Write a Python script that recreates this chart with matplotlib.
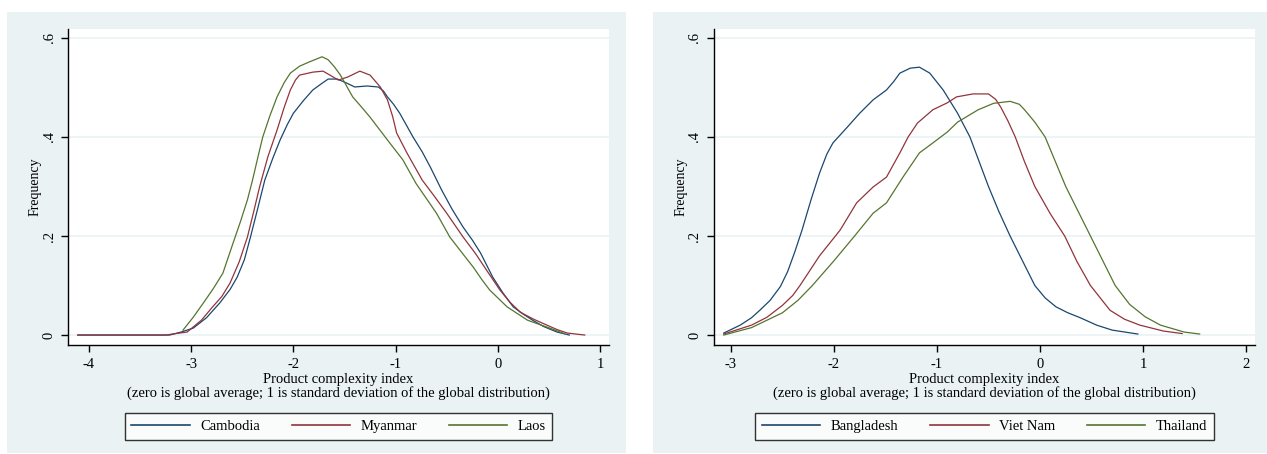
import matplotlib
matplotlib.use("Agg")
import matplotlib.pyplot as plt
from matplotlib.patches import Rectangle

# left panel
cambodia_x = [-4.11, -3.5, -3.21, -3.10, -2.98, -2.85, -2.72, -2.62, -2.55, -2.48, -2.42, -2.35, -2.28,
              -2.20, -2.13, -2.06, -2.00, -1.90, -1.81, -1.73, -1.66, -1.57, -1.48, -1.40, -1.28,
              -1.17, -1.12, -1.08, -1.02, -0.96, -0.83, -0.74, -0.66, -0.55, -0.45, -0.34, -0.25,
              -0.17, -0.05, 0.05, 0.15, 0.25, 0.34, 0.45, 0.58, 0.70]
cambodia_y = [0, 0, 0, 0.006, 0.014, 0.035, 0.065, 0.092, 0.117, 0.152, 0.198, 0.255, 0.313,
              0.358, 0.394, 0.425, 0.448, 0.474, 0.495, 0.507, 0.517, 0.517, 0.509, 0.501, 0.503,
              0.501, 0.493, 0.481, 0.466, 0.448, 0.400, 0.370, 0.339, 0.293, 0.255, 0.218, 0.192,
              0.166, 0.117, 0.085, 0.057, 0.042, 0.030, 0.017, 0.006, 0.0]
myanmar_x = [-4.11, -3.25, -3.15, -3.04, -2.90, -2.79, -2.70, -2.62, -2.53, -2.45, -2.39, -2.33, -2.25,
             -2.16, -2.09, -2.03, -1.98, -1.94, -1.81, -1.71, -1.61, -1.56, -1.47, -1.35, -1.25,
             -1.15, -1.08, -1.03, -0.99, -0.89, -0.80, -0.74, -0.62, -0.50, -0.42, -0.34, -0.22,
             -0.11, 0.02, 0.12, 0.22, 0.35, 0.48, 0.58, 0.68, 0.85]
myanmar_y = [0, 0, 0.003, 0.006, 0.03, 0.057, 0.078, 0.105, 0.148, 0.198, 0.248, 0.30, 0.360,
             0.414, 0.460, 0.495, 0.515, 0.525, 0.531, 0.533, 0.521, 0.515, 0.521, 0.533, 0.525,
             0.501, 0.475, 0.442, 0.408, 0.368, 0.335, 0.313, 0.280, 0.246, 0.222, 0.198, 0.165,
             0.131, 0.091, 0.066, 0.046, 0.032, 0.020, 0.011, 0.004, 0.0]
laos_x = [-3.08, -2.98, -2.88, -2.78, -2.69, -2.59, -2.52, -2.45, -2.40, -2.35, -2.30, -2.23, -2.16,
          -2.09, -2.03, -1.94, -1.84, -1.72, -1.66, -1.60, -1.54, -1.48, -1.42, -1.34, -1.25, -1.08,
          -0.93, -0.80, -0.70, -0.60, -0.47, -0.35, -0.24, -0.16, -0.08, 0.09, 0.29, 0.48,
          0.61, 0.65]
laos_y = [0.010, 0.036, 0.065, 0.095, 0.125, 0.186, 0.228, 0.273, 0.313, 0.357, 0.400, 0.443, 0.481,
          0.510, 0.529, 0.543, 0.552, 0.562, 0.556, 0.542, 0.525, 0.503, 0.481, 0.462, 0.440, 0.394,
          0.354, 0.306, 0.276, 0.246, 0.198, 0.166, 0.137, 0.113, 0.091, 0.057, 0.030, 0.016,
          0.006, 0.003]

# right panel
bangladesh_x = [-3.07, -2.91, -2.80, -2.72, -2.62, -2.52, -2.45, -2.38, -2.31, -2.22, -2.14, -2.07,
                -2.01, -1.87, -1.75, -1.62, -1.49, -1.42, -1.36, -1.26, -1.17, -1.07, -0.94, -0.80,
                -0.68, -0.59, -0.50, -0.40, -0.29, -0.17, -0.05, 0.05, 0.155, 0.27, 0.39, 0.55,
                0.70, 0.95]
bangladesh_y = [0.004, 0.02, 0.035, 0.05, 0.07, 0.098, 0.128, 0.168, 0.212, 0.275, 0.327, 0.365,
                0.388, 0.420, 0.448, 0.475, 0.495, 0.512, 0.529, 0.539, 0.541, 0.529, 0.495, 0.448,
                0.40, 0.350, 0.30, 0.250, 0.20, 0.150, 0.10, 0.075, 0.057, 0.045, 0.035, 0.020,
                0.01, 0.002]
vietnam_x = [-3.07, -2.8, -2.65, -2.5, -2.40, -2.33, -2.14, -1.94, -1.78, -1.62, -1.49, -1.36, -1.28,
             -1.19, -1.04, -0.90, -0.81, -0.65, -0.50, -0.43, -0.38, -0.31, -0.24, -0.15, -0.05,
             0.10, 0.24, 0.36, 0.49, 0.68, 0.82, 0.97, 1.2, 1.38]
vietnam_y = [0.002, 0.02, 0.036, 0.06, 0.080, 0.10, 0.16, 0.212, 0.267, 0.299, 0.319, 0.368, 0.400,
             0.428, 0.455, 0.469, 0.481, 0.487, 0.487, 0.476, 0.46, 0.432, 0.40, 0.350, 0.30,
             0.245, 0.20, 0.148, 0.10, 0.05, 0.032, 0.02, 0.008, 0.003]
thailand_x = [-3.07, -2.8, -2.5, -2.35, -2.21, -2.0, -1.80, -1.62, -1.49, -1.33, -1.17, -1.04, -0.90,
              -0.80, -0.60, -0.45, -0.29, -0.20, -0.15, -0.05, 0.05, 0.15, 0.25, 0.37, 0.49, 0.61,
              0.73, 0.87, 1.02, 1.17, 1.40, 1.55]
thailand_y = [0.0, 0.015, 0.045, 0.07, 0.10, 0.15, 0.20, 0.246, 0.267, 0.319, 0.368, 0.388, 0.410,
              0.430, 0.455, 0.468, 0.472, 0.466, 0.455, 0.43, 0.40, 0.350, 0.30, 0.250, 0.20, 0.150,
              0.10, 0.062, 0.037, 0.02, 0.006, 0.002]

yticks = [0, 0.2, 0.4, 0.6]
ytick_labels = ["0", ".2", ".4", ".6"]
xlabel = "Product complexity index\n(zero is global average; 1 is standard deviation of the global distribution)"

navy = "#1a476f"
maroon = "#90353b"
green = "#55752f"
bg = "#eaf2f3"

plt.rcParams["font.family"] = ["Liberation Serif", "DejaVu Serif"]
plt.rcParams["font.size"] = 10
plt.rcParams["axes.unicode_minus"] = False

fig = plt.figure(figsize=(12.67, 4.54), dpi=100)
fig.patch.set_facecolor("white")
fig.add_artist(Rectangle((0.0055, 0.0022), 0.4886, 0.9714, transform=fig.transFigure,
                         facecolor=bg, edgecolor="none", zorder=0))
fig.add_artist(Rectangle((0.5154, 0.0022), 0.4846, 0.9714, transform=fig.transFigure,
                         facecolor=bg, edgecolor="none", zorder=0))


def setup(ax, xticks, xlim):
    ax.set_facecolor("white")
    ax.set_xlim(xlim)
    ax.set_ylim(-0.0202, 0.618)
    ax.set_yticks(yticks)
    ax.set_yticklabels(ytick_labels, rotation=90, va="center")
    ax.set_xticks(xticks)
    ax.set_xticklabels([str(t) for t in xticks])
    ax.grid(axis="y", color=bg, linewidth=1.2)
    ax.set_axisbelow(True)
    for s in ["top", "right"]:
        ax.spines[s].set_visible(False)
    ax.spines["left"].set_linewidth(1.0)
    ax.spines["bottom"].set_linewidth(1.0)
    ax.tick_params(direction="out", length=5, width=1, labelsize=10.5, pad=4)
    ax.set_ylabel("Frequency", fontsize=10, labelpad=1)
    ax.set_xlabel(xlabel, fontsize=10.5, linespacing=1.0, labelpad=2)


ax1 = fig.add_axes([0.0537, 0.240, 0.427, 0.696])
setup(ax1, [-4, -3, -2, -1, 0, 1], (-4.205, 1.088))
ax1.plot(cambodia_x, cambodia_y, color=navy, lw=0.9, label="Cambodia")
ax1.plot(myanmar_x, myanmar_y, color=maroon, lw=0.9, label="Myanmar")
ax1.plot(laos_x, laos_y, color=green, lw=0.9, label="Laos")

ax2 = fig.add_axes([0.5635, 0.240, 0.427, 0.696])
setup(ax2, [-3, -2, -1, 0, 1, 2], (-3.165, 2.087))
ax2.plot(bangladesh_x, bangladesh_y, color=navy, lw=0.9, label="Bangladesh")
ax2.plot(vietnam_x, vietnam_y, color=maroon, lw=0.9, label="Viet Nam")
ax2.plot(thailand_x, thailand_y, color=green, lw=0.9, label="Thailand")

for ax in [ax1, ax2]:
    leg = ax.legend(loc="center", bbox_to_anchor=(0.5, -0.258), ncol=3, frameon=True,
                    fancybox=False, edgecolor="black", handlelength=4.0, columnspacing=2.2,
                    handletextpad=0.7, fontsize=10.5, borderpad=0.45)
    leg.get_frame().set_linewidth(1.0)
    for line in leg.get_lines():
        line.set_linewidth(1.2)

fig.savefig("out.png", dpi=100, facecolor="white")
